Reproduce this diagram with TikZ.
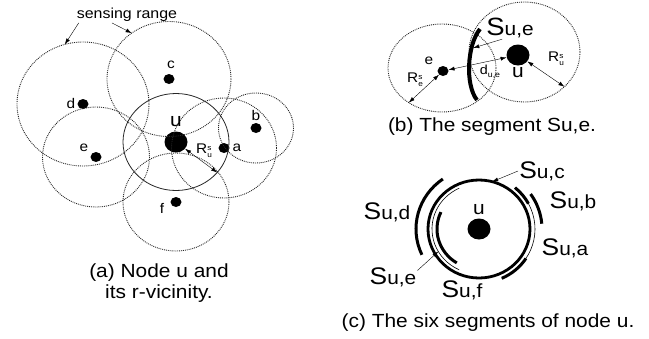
\documentclass[tikz,border=0pt]{standalone}
\usepackage{amsmath}
\usepackage{fontspec}
\setmainfont{Liberation Sans}[FakeStretch=1.1]
\usetikzlibrary{arrows.meta,shapes.geometric}
\newcommand{\fsz}[1]{\fontsize{#1}{#1}\selectfont}
\newcommand{\segname}[2][24]{{\fsz{#1}S}#2}
\newcommand{\rad}[2]{R\raisebox{-1pt}{\fsz{7.5}\begin{tabular}{@{}l@{}}#1\\[0pt]#2\end{tabular}}}

\begin{document}
\begin{tikzpicture}[x=1pt,y=-1pt,
    dot/.style={ellipse,fill,inner sep=0pt,minimum width=11pt,minimum height=10pt},
    bigdot/.style={ellipse,fill,inner sep=0pt,minimum width=23pt,minimum height=21pt},
    sensed/.style={densely dotted,black!85,line width=0.9pt},
    seg/.style={line width=3pt},
    arr/.style={-{Latex[length=6pt,width=4pt]}},
    darr/.style={{Latex[length=6pt,width=4pt]}-{Latex[length=6pt,width=4pt]}},
    lab/.style={font=\fsz{14},inner sep=1pt},
    biglab/.style={font=\fsz{19},inner sep=1pt},
    captext/.style={font=\fontsize{19}{21}\selectfont,align=center}]
    \useasboundingbox (0,0) rectangle (649,338);

    % (a) nodes
    \node[bigdot] (u) at (176,142) {};
    \node[dot] (a) at (224,148) {};
    \node[dot] (b) at (256,128) {};
    \node[dot] (c) at (169,79) {};
    \node[dot] (d) at (83,104) {};
    \node[dot] (e) at (96,157) {};
    \node[dot] (f) at (176,202) {};

    % (a) sensing ranges
    \draw[black!85,line width=0.8pt] (u) ellipse[x radius=53,y radius=48.5];
    \draw[sensed] (a) ellipse[x radius=52.5,y radius=50];
    \draw[sensed] (b) ellipse[x radius=37.5,y radius=35];
    \draw[sensed] (c) ellipse[x radius=62,y radius=57.5];
    \draw[sensed] (d) ellipse[x radius=66,y radius=62];
    \draw[sensed] (e) ellipse[x radius=53.5,y radius=50];
    \draw[sensed] (f) ellipse[x radius=53,y radius=49];

    % (a) labels
    \node[biglab] (lu) at (176,122) {u};
    \node[lab] (la) at (237,148) {a};
    \node[lab] (lb) at (256,115) {b};
    \node[lab] (lc) at (171,65) {c};
    \node[lab] (ld) at (71,103) {d};
    \node[lab] (le) at (84,148) {e};
    \node[lab] (lf) at (162,208) {f};

    % radius of u
    \path (u) ++(39:53 and 48.5) coordinate (uR);
    \draw[darr] (u) -- (uR);
    \node[lab] (lR) at (204,152) {\rad{s}{u}};

    % sensing range
    \node[font=\fsz{14.5},inner sep=1pt] (sr) at (127,15) {sensing range};
    \path (d) ++(254:66 and 62) coordinate (dtop);
    \path (c) ++(233:62 and 57.5) coordinate (ctop);
    \draw[arr] ([xshift=3pt]sr.south west) -- (dtop);
    \draw[arr] ([xshift=-15pt]sr.south) -- (ctop);

    \node[captext] (capa) at (159,283) {(a) Node u and\\its r-vicinity.};

    % (b) nodes and ranges
    \node[dot] (e2) at (443,71) {};
    \node[bigdot] (u2) at (518,55) {};
    \coordinate (ce) at (442,68);
    \coordinate (cu) at (524.5,52);
    \draw[sensed] (ce) ellipse[x radius=54,y radius=44];
    \draw[sensed] (cu) ellipse[x radius=55.5,y radius=50];

    % segment S_{u,e}
    \draw[line width=4pt] (480,29) .. controls (467,45) and (465,85) .. (477,100)
        coordinate[pos=0.3] (sarc);
    \node[font=\fsz{19},inner sep=1pt] (lse) at (510,28) {\segname[25]{u,e}};
    \draw[arr,shorten >=2pt] (lse.235) -- (sarc);

    % distance and radii
    \draw[darr] (e2) -- (u2);
    \node[font=\fsz{13},inner sep=1pt] (ld2) at (490,72) {d{\fsz{8}\raisebox{-2.5pt}{u,e}}};
    \node[lab] (le2) at (429,61) {e};
    \node[biglab] (lu2) at (518,73) {u};
    \path (ce) ++(128:54 and 44) coordinate (eR);
    \path (cu) ++(44:55.5 and 50) coordinate (uR2);
    \draw[darr] (e2) -- (eR);
    \draw[darr] (u2) -- (uR2);
    \node[lab] (lRe) at (415,81) {\rad{s}{e}};
    \node[lab] (lRu) at (556,60) {\rad{s}{u}};

    \node[captext] (capb) at (492,127) {(b) The segment Su,e.};

    % (c) node u and its circle
    \coordinate (C) at (479,229);
    \node[bigdot] (u3) at (C) {};
    \node[biglab] (lu3) at (479,210) {u};
    \draw[line width=2.8pt] (C) ellipse[x radius=51,y radius=49];
    \draw[line width=0.6pt] (C) ++(-50:56 and 54) arc[start angle=-50,end angle=66,x radius=56,y radius=54];
    \draw[line width=0.6pt] (C) ++(115:47 and 45) arc[start angle=115,end angle=245,x radius=47,y radius=45];

    % (c) the six segments
    \draw[seg] (C) ++(155:63 and 61) arc[start angle=155,end angle=235,x radius=63,y radius=61];
    \draw[seg] (C) ++(122:42 and 40) arc[start angle=122,end angle=205,x radius=42,y radius=40];
    \draw[seg] (C) ++(-35:63 and 61) arc[start angle=-35,end angle=-5,x radius=63,y radius=61];
    \draw[seg] (C) ++(-50:56 and 54) arc[start angle=-50,end angle=-28,x radius=56,y radius=54];
    \draw[seg] (C) ++(33:56 and 54) arc[start angle=33,end angle=66,x radius=56,y radius=54];

    % (c) labels
    \node[biglab] (lsc) at (542,171) {\segname{u,c}};
    \node[biglab] (lsb) at (573,201) {\segname{u,b}};
    \node[biglab] (lsd) at (387,212) {\segname{u,d}};
    \node[biglab] (lsa) at (565,248) {\segname{u,a}};
    \node[biglab] (lse3) at (393,277) {\segname{u,e}};
    \node[biglab] (lsf) at (462,290) {\segname{u,f}};
    \path (C) ++(-75:51 and 49) coordinate (ctop3);
    \path (C) ++(150:47 and 45) coordinate (eth);
    \draw[arr] (lsc.west) -- (ctop3);
    \draw[arr] (lse3.15) -- (eth);

    \node[captext] (capc) at (488,323) {(c) The six segments of node u.};
\end{tikzpicture}
\end{document}
